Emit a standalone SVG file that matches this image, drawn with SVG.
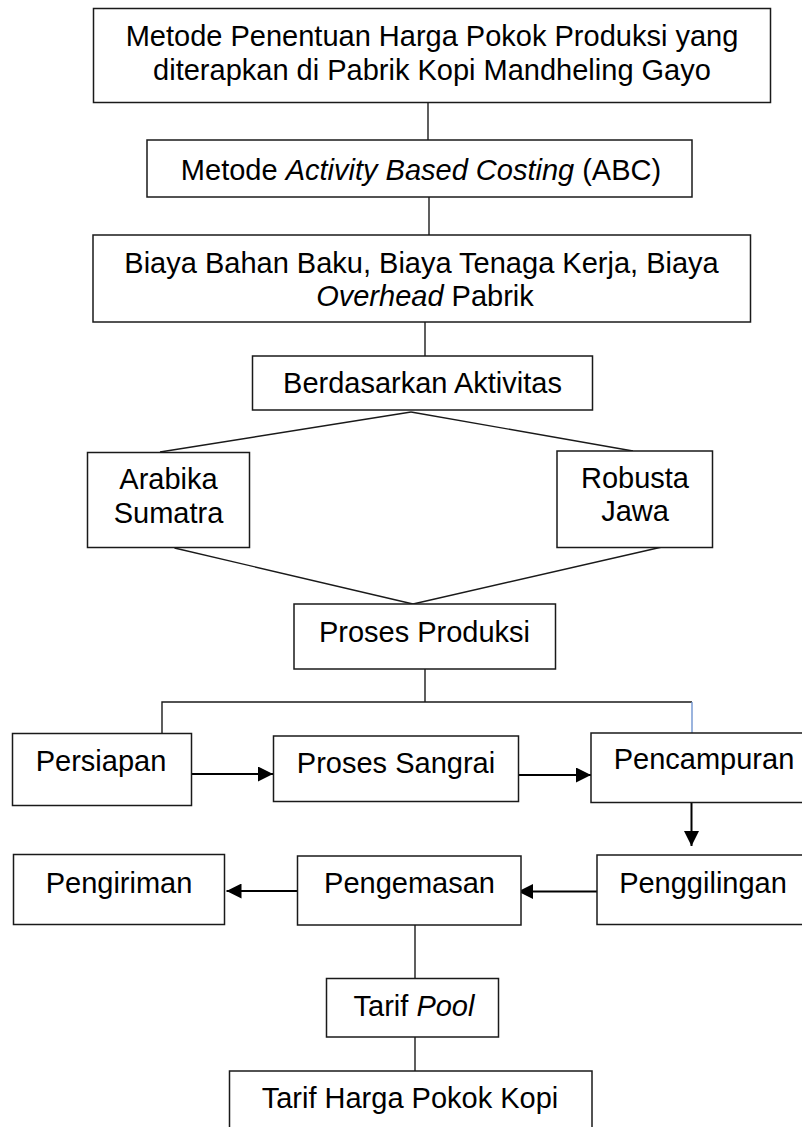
<svg xmlns="http://www.w3.org/2000/svg" width="802" height="1127" viewBox="0 0 802 1127">
<style>
.box{fill:#fff;stroke:#1a1a1a;stroke-width:1.5}
.t{font-family:"Liberation Sans",Arial,sans-serif;font-size:29px;fill:#000;text-anchor:middle}
.i{font-style:italic}
.ln{stroke:#1a1a1a;stroke-width:1.4;fill:none}
.ar{stroke:#000;stroke-width:2;fill:none}
</style>
<defs>
<marker id="ah" viewBox="0 0 15 15" refX="15" refY="7.5" markerWidth="15" markerHeight="15" markerUnits="userSpaceOnUse" orient="auto">
<path d="M0,0 L15,7.5 L0,15 Z" fill="#000"/>
</marker>
</defs>
<rect width="802" height="1127" fill="#fff"/>
<g id="connectors">
<line class="ln" x1="428" y1="103" x2="428" y2="140"/>
<line class="ln" x1="429" y1="197" x2="429" y2="235"/>
<line class="ln" x1="425" y1="322" x2="425" y2="356"/>
<line class="ln" x1="411" y1="412" x2="160" y2="452"/>
<line class="ln" x1="411" y1="412" x2="633" y2="451"/>
<line class="ln" x1="174.5" y1="548" x2="413" y2="604"/>
<line class="ln" x1="662" y1="547" x2="413" y2="604"/>
<line class="ln" x1="425" y1="669" x2="425" y2="702"/>
<polyline class="ln" stroke="#555" points="162,733 162,702 692,702"/>
<line x1="692" y1="702" x2="692" y2="733" stroke="#7094d0" stroke-width="1.4"/>
<line class="ar" x1="192" y1="774" x2="273" y2="774" marker-end="url(#ah)"/>
<line class="ar" x1="515" y1="775" x2="591" y2="775" marker-end="url(#ah)"/>
<line class="ar" x1="691.5" y1="802" x2="691.5" y2="846" marker-end="url(#ah)"/>
<line class="ar" x1="597" y1="891.5" x2="518" y2="891.5" marker-end="url(#ah)"/>
<line class="ar" x1="297" y1="891" x2="226.5" y2="891" marker-end="url(#ah)"/>
<line class="ln" x1="415" y1="925" x2="415" y2="978"/>
<line class="ln" x1="415" y1="1037" x2="415" y2="1071"/>
</g>
<g id="n1"><rect class="box" x="93.5" y="8.5" width="677" height="94"/>
<text class="t" x="432" y="46">Metode Penentuan Harga Pokok Produksi yang</text>
<text class="t" x="432" y="80">diterapkan di Pabrik Kopi Mandheling Gayo</text></g>
<g id="n2"><rect class="box" x="147" y="140" width="545" height="57"/>
<text class="t" x="421" y="180">Metode <tspan class="i">Activity Based Costing</tspan> (ABC)</text></g>
<g id="n3"><rect class="box" x="93" y="235" width="657.5" height="87"/>
<text class="t" x="421.5" y="273">Biaya Bahan Baku, Biaya Tenaga Kerja, Biaya</text>
<text class="t" x="425" y="306"><tspan class="i">Overhead</tspan> Pabrik</text></g>
<g id="n4"><rect class="box" x="252.5" y="356" width="340" height="54"/>
<text class="t" x="422.5" y="392.5">Berdasarkan Aktivitas</text></g>
<g id="n5"><rect class="box" x="87.5" y="452.5" width="162" height="95"/>
<text class="t" x="168.5" y="489">Arabika</text>
<text class="t" x="168.5" y="523">Sumatra</text></g>
<g id="n6"><rect class="box" x="557" y="451" width="155.5" height="96.5"/>
<text class="t" x="635" y="487.5">Robusta</text>
<text class="t" x="635" y="521">Jawa</text></g>
<g id="n7"><rect class="box" x="294" y="604" width="261.5" height="65"/>
<text class="t" x="424.5" y="642">Proses Produksi</text></g>
<g id="n8"><rect class="box" x="12.5" y="733.5" width="179" height="72"/>
<text class="t" x="101" y="771">Persiapan</text></g>
<g id="n9"><rect class="box" x="273.5" y="736" width="245" height="65.5"/>
<text class="t" x="396" y="773">Proses Sangrai</text></g>
<g id="n10"><rect class="box" x="591" y="733" width="225" height="69.5"/>
<text class="t" x="704" y="769">Pencampuran</text></g>
<g id="n11"><rect class="box" x="597" y="855" width="212" height="69.5"/>
<text class="t" x="703" y="892.5">Penggilingan</text></g>
<g id="n12"><rect class="box" x="297.5" y="856" width="223.5" height="69"/>
<text class="t" x="409.5" y="893">Pengemasan</text></g>
<g id="n13"><rect class="box" x="13.5" y="854.5" width="211" height="70"/>
<text class="t" x="119" y="893">Pengiriman</text></g>
<g id="n14"><rect class="box" x="326.5" y="978.5" width="172" height="58.5"/>
<text class="t" x="414" y="1016">Tarif <tspan class="i">Pool</tspan></text></g>
<g id="n15"><rect class="box" x="229.5" y="1071" width="362.5" height="80"/>
<text class="t" x="410" y="1108">Tarif Harga Pokok Kopi</text></g>
</svg>
